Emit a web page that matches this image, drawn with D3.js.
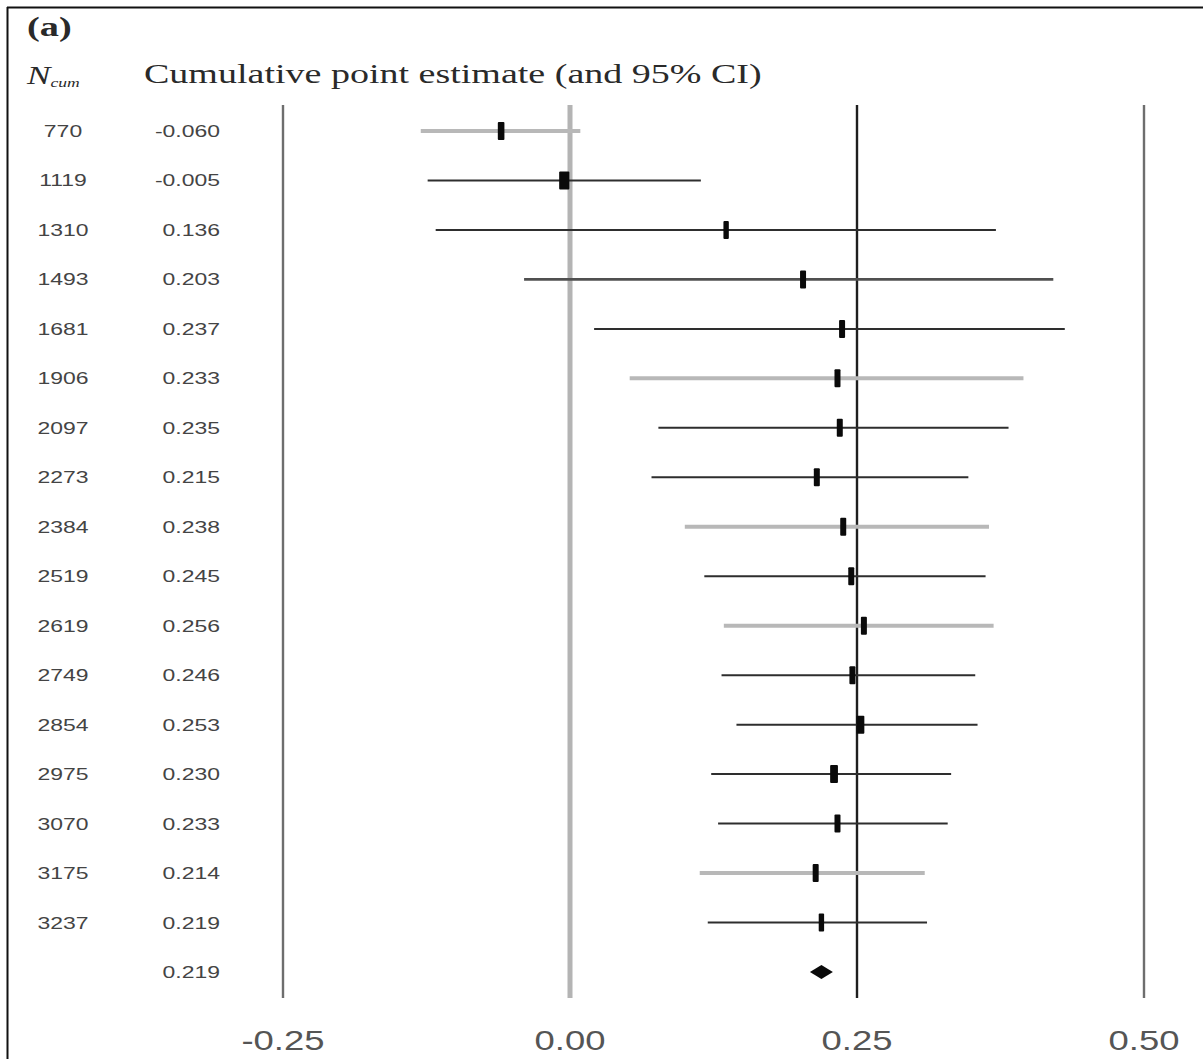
<!DOCTYPE html>
<html>
<head>
<meta charset="utf-8">
<script src="https://cdn.jsdelivr.net/npm/d3@7"></script>
<style>
  html, body { margin: 0; padding: 0; background: #fff; }
  svg { display: block; }
</style>
</head>
<body>
<svg id="chart" width="1203" height="1059"></svg>
<script>
// Cumulative meta-analysis: sample size, running estimate and its 95% CI
const nCum      = [770, 1119, 1310, 1493, 1681, 1906, 2097, 2273, 2384, 2519, 2619, 2749, 2854, 2975, 3070, 3175, 3237];
const estimates = [-0.060, -0.005, 0.136, 0.203, 0.237, 0.233, 0.235, 0.215, 0.238, 0.245, 0.256, 0.246, 0.253, 0.230, 0.233, 0.214, 0.219];
const lowerCI   = [-0.130, -0.124, -0.117, -0.040, 0.021, 0.052, 0.077, 0.071, 0.100, 0.117, 0.134, 0.132, 0.145, 0.123, 0.129, 0.113, 0.120];
const upperCI   = [0.009, 0.114, 0.371, 0.421, 0.431, 0.395, 0.382, 0.347, 0.365, 0.362, 0.369, 0.353, 0.355, 0.332, 0.329, 0.309, 0.311];
// relative weight of the step, drives the marker width
const weights   = [1.1, 1.7, 0.9, 1.0, 1.0, 1.0, 1.0, 1.0, 1.0, 1.0, 1.0, 1.0, 1.3, 1.3, 1.0, 1.0, 0.9];
// line group of each step ("a" = shaded, "b" = dark, "m" = medium)
const groups    = ["a", "b", "b", "m", "b", "a", "b", "b", "a", "b", "a", "b", "b", "b", "b", "a", "b"];
const pooled    = 0.219;
const pooledCI  = [0.209, 0.229];
const xTicks    = [-0.25, 0.00, 0.25, 0.50];

const svg = d3.select("#chart");
const W = 1203, H = 1059;
const SX = 1.35;  // horizontal text stretch
const textColor = "#3a3a3a";

// frame edges
svg.append("line").attr("x1", 7.5).attr("x2", 7.5).attr("y1", 7).attr("y2", H).attr("stroke", "#111").attr("stroke-width", 2);
svg.append("line").attr("x1", 7).attr("x2", W).attr("y1", 7.5).attr("y2", 7.5).attr("stroke", "#111").attr("stroke-width", 2);

const x = d3.scaleLinear().domain([-0.25, 0.50]).range([283, 1144]);
const rows = d3.range(nCum.length + 1);
const y = d3.scalePoint().domain(rows).range([131, 972]);

function stretchedText(g, tx, ty, str, opts) {
  const t = g.append("text")
    .attr("transform", `translate(${tx},${ty}) scale(${opts.sx || SX},1)`)
    .attr("fill", opts.fill || textColor)
    .attr("font-family", opts.family || "'Liberation Sans', Arial, sans-serif")
    .attr("font-size", opts.size)
    .attr("text-anchor", opts.anchor || "start")
    .attr("font-weight", opts.weight || "normal")
    .attr("font-style", opts.style || "normal")
    .text(str);
  return t;
}

// headers
stretchedText(svg, 27, 36, "(a)", { size: 27, sx: 1.42, family: "'Liberation Serif', 'Times New Roman', serif", weight: "bold", fill: "#2a2a2a" });
const nh = svg.append("text")
  .attr("transform", `translate(27,84) scale(${SX},1)`)
  .attr("fill", "#2a2a2a")
  .attr("font-family", "'Liberation Serif', 'Times New Roman', serif");
nh.append("tspan").attr("font-size", 26).attr("font-style", "italic").text("N");
nh.append("tspan").attr("font-size", 13).attr("font-style", "italic").attr("dy", 3).text("cum");
stretchedText(svg, 144, 83, "Cumulative point estimate (and 95% CI)", { size: 26.5, sx: 1.435, family: "'Liberation Serif', 'Times New Roman', serif", fill: "#2a2a2a" });

// reference lines at the tick values
const refStyle = {
  "-0.25": { c: "#6e6e6e", w: 2.4 },
  "0":     { c: "#b4b4b4", w: 5 },
  "0.25":  { c: "#1e1e1e", w: 2.4 },
  "0.5":   { c: "#6e6e6e", w: 2.4 }
};
svg.append("g").selectAll("line").data(xTicks).join("line")
  .attr("x1", d => x(d)).attr("x2", d => x(d))
  .attr("y1", 105).attr("y2", 998)
  .attr("stroke", d => refStyle[String(d)].c)
  .attr("stroke-width", d => refStyle[String(d)].w);

// axis labels
const axis = d3.axisBottom(x).tickValues(xTicks).tickFormat(d3.format(".2f")).tickSize(0);
const ag = svg.append("g").attr("transform", "translate(0,1018)").call(axis);
ag.select(".domain").remove();
ag.selectAll(".tick text").each(function(d) {
  const t = d3.select(this);
  t.attr("transform", `scale(${SX},1)`)
   .attr("x", 0).attr("dy", 0).attr("y", 32)
   .attr("fill", "#555")
   .attr("font-family", "'Liberation Sans', Arial, sans-serif")
   .attr("font-size", 27)
   .text(d < 0 ? "-" + d3.format(".2f")(-d) : d3.format(".2f")(d));
});
ag.selectAll(".tick").attr("transform", d => `translate(${x(d)},0)`);

// CI lines
const lineStyle = { a: { c: "#b8b8b8", w: 4 }, b: { c: "#2e2e2e", w: 2 }, m: { c: "#505050", w: 2.8 } };
const rowsData = nCum.map((n, i) => ({ i, n, est: estimates[i], lo: lowerCI[i], hi: upperCI[i], w: weights[i], g: groups[i] }));

svg.append("g").selectAll("line").data(rowsData).join("line")
  .attr("x1", d => x(d.lo)).attr("x2", d => x(d.hi))
  .attr("y1", d => y(d.i)).attr("y2", d => y(d.i))
  .attr("stroke", d => lineStyle[d.g].c)
  .attr("stroke-width", d => lineStyle[d.g].w);

// point markers
svg.append("g").selectAll("rect").data(rowsData).join("rect")
  .attr("x", d => x(d.est) - 3 * d.w)
  .attr("width", d => 6 * d.w)
  .attr("y", d => y(d.i) - 9)
  .attr("height", 18)
  .attr("rx", 1)
  .attr("fill", "#0a0a0a");

// pooled diamond
const yp = y(nCum.length);
svg.append("path")
  .attr("d", d3.line()([[x(pooledCI[0]), yp], [x(pooled), yp - 7], [x(pooledCI[1]), yp], [x(pooled), yp + 7]]) + "Z")
  .attr("fill", "#0a0a0a");

// table columns
const tg = svg.append("g");
rowsData.forEach(d => {
  stretchedText(tg, 63, y(d.i) + 6, String(d.n), { size: 17, anchor: "middle", fill: "#444" });
  const s = d.est < 0 ? "-" + d3.format(".3f")(-d.est) : d3.format(".3f")(d.est);
  stretchedText(tg, 220, y(d.i) + 6, s, { size: 17, anchor: "end", fill: "#444" });
});
stretchedText(tg, 220, yp + 6, d3.format(".3f")(pooled), { size: 17, anchor: "end", fill: "#444" });
</script>
</body>
</html>
